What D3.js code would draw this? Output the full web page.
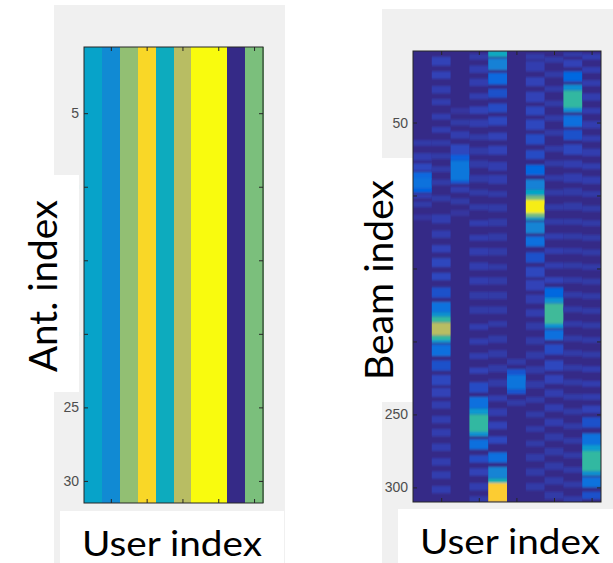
<!DOCTYPE html>
<html>
<head>
<meta charset="utf-8">
<script src="https://cdn.jsdelivr.net/npm/d3@7"></script>
<style>
  html, body { margin: 0; padding: 0; background: #ffffff; }
  svg { display: block; }
</style>
</head>
<body>
<div id="chart"></div>
<script>
// ---------------- DATA ----------------
const users = [1, 2, 3, 4, 5, 6, 7, 8, 9, 10];
const userTicks = [2, 4, 6, 8, 10];
const antDomain = [0.5, 31.5];                  // visible antenna rows 1..31
const antTicks = [5, 10, 15, 20, 25, 30];
const beamTicks = [50, 100, 150, 200, 250, 300];
const beamDomain = [1, 310];

// Left panel: one value per user column (constant over all antennas), parula scale 0..1
const antValues = [0.365, 0.27, 0.635, 0.915, 0.41, 0.70, 1.0, 1.0, 0.0, 0.603];

// Right panel: per user, bands of [beamStart, beamEnd, value]
const beamBandsU1 = [[62,66,0.04],[71,76,0.05],[78,83,0.07],[84,88,0.15],[88,95,0.18],[95,98,0.13],[99,102,0.05],[104,108,0.04],[113,117,0.03]];
const beamBandsU2 = [[5,11,0.06],[15,20,0.06],[25,30,0.05],[34,38,0.05],[44,48,0.05],[53,57,0.05],[62,66,0.04],[71,75,0.04],[80,84,0.04],[89,93,0.04],[100,104,0.04],[113,119,0.05],[124,129,0.05],[134,139,0.06],[143,149,0.07],[153,158,0.07],[163,170,0.09],[173,180,0.18],[180,183,0.3],[183,187,0.5],[187,196,0.7],[196,199,0.5],[199,201,0.3],[202,210,0.17],[213,220,0.09],[223,230,0.07],[232,238,0.06],[241,246,0.05],[251,256,0.05],[260,265,0.05],[270,275,0.05],[280,285,0.05],[289,294,0.05],[299,304,0.05]];
const beamBandsU3 = [[40,44,0.03],[48,52,0.04],[56,61,0.05],[65,72,0.07],[72,76,0.12],[76,90,0.2],[90,92,0.1],[94,98,0.05],[102,106,0.04],[110,114,0.03]];
const beamBandsU4 = [[3,7,0.04],[11,16,0.05],[20,25,0.05],[30,34,0.05],[39,44,0.06],[48,53,0.05],[58,62,0.04],[67,72,0.04],[76,81,0.04],[86,91,0.04],[96,100,0.04],[106,110,0.04],[117,121,0.05],[127,131,0.05],[136,141,0.05],[146,151,0.05],[156,161,0.05],[166,171,0.04],[176,181,0.04],[188,192,0.05],[198,202,0.05],[208,212,0.05],[218,222,0.06],[228,235,0.08],[238,246,0.17],[246,250,0.32],[250,262,0.5],[262,265,0.3],[267,274,0.17],[278,283,0.08],[287,292,0.06],[297,302,0.05],[306,310,0.04]];
const beamBandsU5 = [[1,5,0.4],[6,14,0.24],[16,24,0.15],[27,33,0.09],[37,43,0.08],[46,52,0.07],[57,62,0.06],[66,72,0.06],[77,83,0.05],[86,92,0.05],[97,101,0.04],[106,111,0.04],[116,121,0.04],[126,131,0.04],[136,141,0.04],[147,151,0.04],[156,161,0.04],[166,171,0.04],[176,181,0.04],[186,190,0.04],[196,201,0.04],[206,211,0.04],[216,221,0.04],[226,231,0.04],[237,241,0.05],[246,251,0.05],[255,260,0.06],[265,270,0.07],[276,283,0.17],[286,294,0.25],[294,297,0.45],[297,310,0.88]];
const beamBandsU6 = [[212,216,0.04],[219,223,0.1],[223,233,0.19],[233,236,0.1],[240,244,0.04]];
const beamBandsU7 = [[3,7,0.04],[8,15,0.05],[19,25,0.06],[29,36,0.06],[39,45,0.07],[48,55,0.07],[58,65,0.08],[69,75,0.08],[79,86,0.14],[89,96,0.24],[96,100,0.38],[100,103,0.6],[103,112,0.97],[112,115,0.6],[115,117,0.35],[118,126,0.25],[128,135,0.17],[139,146,0.09],[149,156,0.07],[158,165,0.06],[168,174,0.05],[178,183,0.05],[187,192,0.04],[197,202,0.04],[207,212,0.04],[217,222,0.04],[227,232,0.04],[238,242,0.04],[248,252,0.04],[258,262,0.04],[268,272,0.04],[277,282,0.04],[287,292,0.04],[297,302,0.04]];
const beamBandsU8 = [[5,9,0.04],[15,19,0.04],[25,29,0.04],[35,39,0.04],[45,49,0.04],[55,59,0.04],[66,70,0.04],[76,80,0.04],[86,90,0.04],[96,100,0.04],[106,110,0.04],[116,120,0.04],[126,130,0.05],[136,140,0.05],[146,150,0.05],[156,160,0.06],[163,170,0.14],[170,174,0.3],[174,188,0.52],[188,191,0.3],[192,199,0.17],[202,209,0.08],[213,220,0.07],[223,229,0.06],[233,238,0.05],[243,248,0.05],[253,258,0.05],[263,268,0.04],[273,278,0.04],[283,288,0.04],[293,298,0.04],[303,308,0.04]];
const beamBandsU9 = [[2,5,0.04],[7,12,0.06],[15,22,0.14],[24,28,0.28],[28,40,0.5],[40,43,0.28],[45,53,0.17],[55,62,0.09],[65,72,0.07],[76,81,0.05],[85,91,0.05],[95,100,0.04],[105,110,0.04],[116,120,0.04],[126,130,0.04],[136,140,0.04],[146,150,0.04],[156,160,0.04],[166,170,0.04],[176,180,0.04],[186,190,0.04],[196,200,0.04],[206,210,0.04],[216,220,0.04],[226,230,0.04],[236,240,0.04],[246,250,0.04],[256,260,0.04],[266,270,0.04],[276,280,0.04],[286,290,0.04],[296,300,0.04],[306,310,0.04]];
const beamBandsU10 = [[3,7,0.05],[12,16,0.05],[21,25,0.05],[30,35,0.05],[40,44,0.05],[49,54,0.05],[59,63,0.05],[68,73,0.05],[78,82,0.05],[87,92,0.05],[97,101,0.04],[107,111,0.04],[117,121,0.04],[127,131,0.04],[137,141,0.04],[147,151,0.04],[157,161,0.04],[167,171,0.04],[177,181,0.04],[187,191,0.04],[197,201,0.04],[207,211,0.04],[217,221,0.05],[227,231,0.05],[236,240,0.05],[244,249,0.06],[252,259,0.09],[263,271,0.18],[271,275,0.33],[275,289,0.5],[289,292,0.3],[293,300,0.18],[303,308,0.09]];
const beamBands = [beamBandsU1, beamBandsU2, beamBandsU3, beamBandsU4, beamBandsU5,
                   beamBandsU6, beamBandsU7, beamBandsU8, beamBandsU9, beamBandsU10];

// Parula colormap anchors
const parulaStops = [
  [0.2081,0.1663,0.5292],[0.1959,0.2645,0.7279],[0.0117,0.3875,0.8820],[0.0498,0.4586,0.8641],
  [0.0793,0.5200,0.8312],[0.0343,0.5966,0.8199],[0.0228,0.6535,0.7768],[0.0843,0.6928,0.7062],
  [0.2178,0.7250,0.6193],[0.3953,0.7459,0.5244],[0.5709,0.7485,0.4494],[0.7184,0.7411,0.3905],
  [0.8507,0.7299,0.3360],[0.9938,0.7455,0.2403],[0.9880,0.8066,0.1794],[0.9589,0.8949,0.1132],
  [0.9763,0.9831,0.0538]
];
const parulaIdx = [1,5,9,13,17,21,25,29,33,37,41,45,49,53,57,61,64];

// ---------------- CHART ----------------
const W = 613, H = 563;
const svg = d3.select("#chart").append("svg").attr("width", W).attr("height", H);

const color = d3.scaleLinear()
  .domain(parulaIdx.map(i => (i - 1) / 63))
  .range(parulaStops.map(c => d3.rgb(c[0] * 255, c[1] * 255, c[2] * 255)))
  .interpolate(d3.interpolateRgb)
  .clamp(true);

const tickFont = "'Liberation Sans', Arial, sans-serif";
const labelFont = "Lato, 'Open Sans', sans-serif";

// figure backgrounds
svg.append("rect").attr("x", 54).attr("y", 5).attr("width", 231).attr("height", 558).attr("fill", "#f0f0f0");
svg.append("rect").attr("x", 382).attr("y", 9).attr("width", 231).attr("height", 554).attr("fill", "#f0f0f0");

// ---- Left panel ----
const L = {x0: 84, x1: 263, y0: 47, y1: 503};
const xL = d3.scaleLinear().domain([0.5, 10.5]).range([L.x0, L.x1]);
const yL = d3.scaleLinear().domain(antDomain).range([L.y0, L.y1]);

svg.append("g").attr("shape-rendering", "crispEdges")
  .selectAll("rect").data(users).join("rect")
  .attr("x", u => xL(u - 0.5))
  .attr("y", yL(antDomain[0]))
  .attr("width", u => xL(u + 0.5) - xL(u - 0.5) + 0.5)
  .attr("height", yL(antDomain[1]) - yL(antDomain[0]))
  .attr("fill", (u, i) => color(antValues[i]));

// ---- Right panel ----
const R = {x0: 413, x1: 601, y0: 51, y1: 502};
const xR = d3.scaleLinear().domain([0.5, 10.5]).range([R.x0, R.x1]);
const yR = d3.scaleLinear().domain(beamDomain).range([R.y0, R.y1]);

const defs = svg.append("defs");
defs.append("clipPath").attr("id", "clipR").append("rect")
  .attr("x", R.x0).attr("y", R.y0).attr("width", R.x1 - R.x0).attr("height", R.y1 - R.y0);
const f = defs.append("filter").attr("id", "soft")
  .attr("x", "-5%").attr("y", "-5%").attr("width", "110%").attr("height", "110%");
f.append("feGaussianBlur").attr("stdDeviation", "0.5 1.3");

const gR = svg.append("g").attr("clip-path", "url(#clipR)").append("g").attr("filter", "url(#soft)");
gR.append("rect").attr("x", R.x0 - 6).attr("y", R.y0 - 6)
  .attr("width", R.x1 - R.x0 + 12).attr("height", R.y1 - R.y0 + 12).attr("fill", color(0));

const rightCells = [];
users.forEach((u, i) => beamBands[i].forEach(b => rightCells.push({u, b0: b[0], b1: b[1], v: b[2]})));
gR.selectAll("rect.cell").data(rightCells).join("rect").attr("class", "cell")
  .attr("x", d => xR(d.u - 0.5))
  .attr("y", d => yR(d.b0))
  .attr("width", d => xR(d.u + 0.5) - xR(d.u - 0.5))
  .attr("height", d => yR(d.b1) - yR(d.b0))
  .attr("fill", d => color(d.v));

// ---- Axes ----
function styleAxis(g) {
  g.select(".domain").remove();
  g.selectAll(".tick line").attr("stroke", "#262626").attr("stroke-width", 1);
  g.selectAll(".tick text").attr("fill", "#4d4d4d").style("font-family", tickFont).style("font-size", "14px");
}
function drawAxes(P, xS, yS, yTicks) {
  svg.append("g").attr("transform", `translate(${P.x0},0)`)
    .call(d3.axisLeft(yS).tickValues(yTicks).tickSize(-4).tickPadding(5)).call(styleAxis);
  svg.append("g").attr("transform", `translate(${P.x1},0)`)
    .call(d3.axisRight(yS).tickValues(yTicks).tickSize(-4).tickFormat("")).call(styleAxis);
  svg.append("g").attr("transform", `translate(0,${P.y0})`)
    .call(d3.axisTop(xS).tickValues(userTicks).tickSize(-4).tickFormat("")).call(styleAxis);
  svg.append("g").attr("transform", `translate(0,${P.y1})`)
    .call(d3.axisBottom(xS).tickValues(userTicks).tickSize(-4).tickFormat("")).call(styleAxis);
}
drawAxes(L, xL, yL, antTicks);
drawAxes(R, xR, yR, beamTicks);

// white label boxes (pasted over the figure)
svg.append("rect").attr("x", 0).attr("y", 175).attr("width", 79).attr("height", 217).attr("fill", "#ffffff");
svg.append("rect").attr("x", 60).attr("y", 511).attr("width", 224).attr("height", 52).attr("fill", "#ffffff");
svg.append("rect").attr("x", 330).attr("y", 158).attr("width", 83).attr("height", 244).attr("fill", "#ffffff");
svg.append("rect").attr("x", 398).attr("y", 509).attr("width", 215).attr("height", 54).attr("fill", "#ffffff");

// plot borders
[L, R].forEach(P => {
  svg.append("rect").attr("x", P.x0).attr("y", P.y0)
    .attr("width", P.x1 - P.x0).attr("height", P.y1 - P.y0)
    .attr("fill", "none").attr("stroke", "#262626").attr("stroke-width", 1);
});

// axis titles
function title(txt, x, y, rot, len, size) {
  svg.append("text").attr("transform", `translate(${x},${y}) rotate(${rot})`)
    .attr("text-anchor", "middle")
    .attr("textLength", len).attr("lengthAdjust", "spacingAndGlyphs")
    .style("font-family", labelFont).style("font-size", size + "px").attr("fill", "#000")
    .text(txt);
}
title("Ant. index", 57, 286, -90, 172, 38);
title("Beam index", 393, 280, -90, 200, 38);
title("User index", 172, 556, 0, 180, 34);
title("User index", 510, 554, 0, 180, 34);
</script>
</body>
</html>
